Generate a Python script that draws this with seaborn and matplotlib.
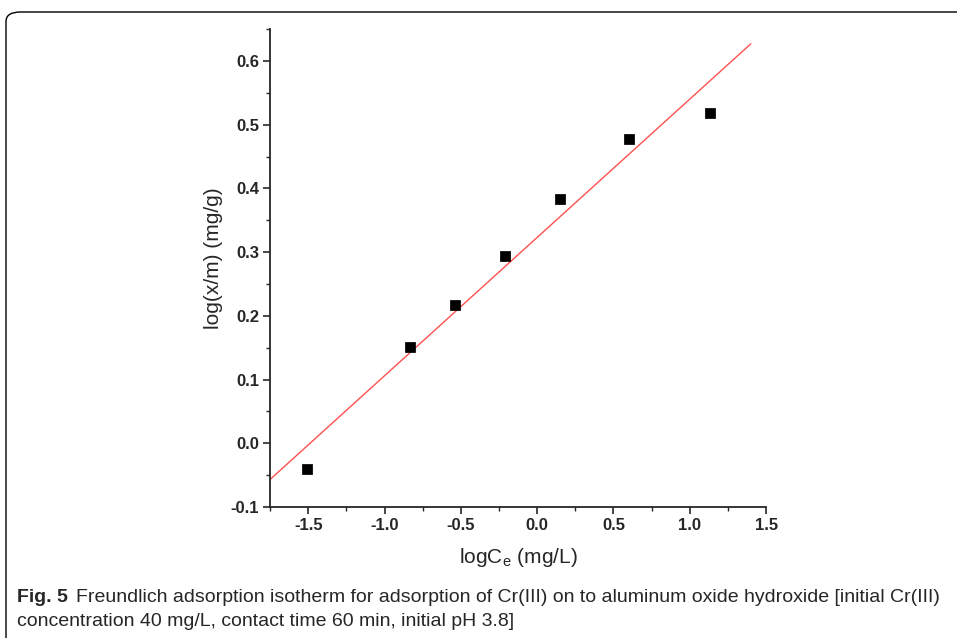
import numpy as np
import matplotlib
matplotlib.use("Agg")
import matplotlib.pyplot as plt
import seaborn as sns
from matplotlib.patches import FancyBboxPatch
from matplotlib.ticker import MultipleLocator

# Freundlich isotherm data
log_ce = [-1.51, -0.83, -0.54, -0.21, 0.15, 0.60, 1.13]
log_xm = [-0.041, 0.151, 0.217, 0.294, 0.383, 0.477, 0.518]
fit_x = [-1.75, 1.40]

sns.set_style("ticks")
plt.rcParams['font.family'] = ['Liberation Sans', 'DejaVu Sans']

fig = plt.figure(figsize=(9.57, 6.38), dpi=100)
ax = fig.add_axes([0.2822, 0.2053, 0.5183, 0.749])

# linear fit
slope, intercept = np.polyfit(log_ce, log_xm, 1)
fit_y = [slope * v + intercept for v in fit_x]
sns.lineplot(x=fit_x, y=fit_y, ax=ax, color="#ff5050", linewidth=1.0)
sns.scatterplot(x=log_ce, y=log_xm, ax=ax, marker="s", s=45, color="black",
                edgecolor="black", zorder=3)

ax.xaxis.set_minor_locator(MultipleLocator(0.25))
ax.yaxis.set_minor_locator(MultipleLocator(0.05))
ax.tick_params(which="major", length=5, width=1.2, labelsize=12, pad=3)
ax.tick_params(which="minor", length=3, width=1.0)
ax.set_xticks([-1.5, -1.0, -0.5, 0.0, 0.5, 1.0, 1.5])
ax.set_xticklabels(["-1.5", "-1.0", "-0.5", "0.0", "0.5", "1.0", "1.5"], fontweight="bold")
ax.set_yticks([-0.1, 0.0, 0.1, 0.2, 0.3, 0.4, 0.5, 0.6])
ax.set_yticklabels(["-0.1", "0.0", "0.1", "0.2", "0.3", "0.4", "0.5", "0.6"], fontweight="bold")
ax.set_xlim(-1.75, 1.5)
ax.set_ylim(-0.1, 0.65)

for side in ["top", "right"]:
    ax.spines[side].set_visible(False)
for side in ["left", "bottom"]:
    ax.spines[side].set_linewidth(1.3)

ax.set_xlabel(r"logC$_\mathregular{e}$ (mg/L)", fontsize=15, labelpad=9)
ax.set_ylabel("log(x/m) (mg/g)", fontsize=15, labelpad=3)
ax.yaxis.set_label_coords(-0.095, 0.52)

# rounded frame around the figure panel
frame = FancyBboxPatch((6 / 957, -0.05), 1.2, 1 - 12 / 638 + 0.05,
                       boxstyle="round,pad=0,rounding_size=0.015",
                       transform=fig.transFigure, fill=False,
                       edgecolor="black", linewidth=1.0, clip_on=False)
fig.patches.append(frame)

# caption
cap_font = ['Liberation Sans', 'DejaVu Sans']
fig.text(17 / 957, 1 - 597 / 638, "Fig. 5", fontsize=14, fontweight="bold",
         family=cap_font, va="center")
fig.text(76 / 957, 1 - 597 / 638,
         "Freundlich adsorption isotherm for adsorption of Cr(III) on to aluminum oxide hydroxide [initial Cr(III)",
         fontsize=14, family=cap_font, va="center")
fig.text(17 / 957, 1 - 621 / 638,
         "concentration 40 mg/L, contact time 60 min, initial pH 3.8]",
         fontsize=14, family=cap_font, va="center")

fig.savefig("out.png", dpi=100)
